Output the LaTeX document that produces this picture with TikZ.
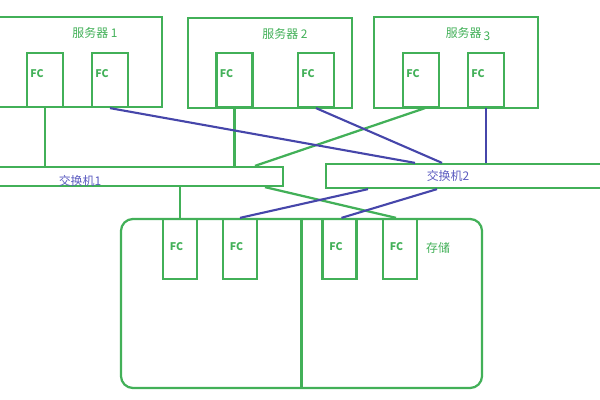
\documentclass[tikz,border=0pt]{standalone}
\usepackage{fontspec}
\setmainfont{Noto Sans CJK SC}
\definecolor{boxgreen}{RGB}{66,176,88}
\definecolor{linkblue}{RGB}{70,70,170}
\definecolor{labelblue}{RGB}{92,92,192}
\tikzset{
  box/.style={draw=boxgreen, line width=1.6pt, inner sep=0pt},
  fctext/.style={text=boxgreen, font=\bfseries\fontsize{7.5}{8}\selectfont},
  fc/.style={box, minimum width=0.9cm, minimum height=1.35cm,
    label={[fctext, xshift=-.2cm, yshift=.15cm]center:FC}},
  sfc/.style={box, minimum width=0.85cm, minimum height=1.5cm,
    label={[fctext, xshift=-.09cm, yshift=.07cm]center:FC}},
  srvlabel/.style={text=boxgreen, font=\fontsize{8.5}{9}\selectfont},
  swlabel/.style={text=labelblue, font=\fontsize{8.5}{9}\selectfont},
  glink/.style={draw=boxgreen, line width=1.6pt},
  blink/.style={draw=linkblue, line width=1.5pt}
}
\begin{document}
\begin{tikzpicture}[x=0.025cm, y=-0.025cm]
\useasboundingbox (0,0) rectangle (600,400);
% servers
\node[box, minimum width=4.125cm, minimum height=2.25cm] (srv1) at (79.5,62) {};
\node[box, minimum width=4.1cm, minimum height=2.25cm] (srv2) at (270,63) {};
\node[box, minimum width=4.1cm, minimum height=2.275cm] (srv3) at (456,62.5) {};
\foreach \i/\x in {1/45,2/110,3/234.5,4/316,5/421,6/486}
\node[fc] (f\i) at (\x,80) {};
% switches
\node[box, minimum width=7.15cm, minimum height=0.475cm] (sw1) at (140,176.5) {};
\node[box, minimum width=6.925cm, minimum height=0.6cm] (sw2) at (464.5,176) {};
% storage
\node[box, rounded corners=0.3cm, minimum width=9.025cm, minimum height=4.225cm] (store) at (301.5,303.5) {};
\draw[glink] (store.north) -- (store.south);
\foreach \i/\x in {1/180,2/240,3/339.5,4/400}
\node[sfc] (s\i) at (\x,249) {};
% edges
\draw[glink] (f1.south) -- (f1.south |- sw1.north);
\draw[glink] (f3.south) -- (f3.south |- sw1.north);
\draw[glink] ([xshift=.1cm]f5.south) -- (255,0 |- sw1.north);
\draw[glink] (s1.north |- sw1.south) -- (s1.north);
\draw[glink] (265,0 |- sw1.south) -- ([xshift=-.1cm]s4.north);
\draw[blink] (f2.south) -- (415,0 |- sw2.north);
\draw[blink] (f4.south) -- (442,0 |- sw2.north);
\draw[blink] (f6.south) -- (f6.south |- sw2.north);
\draw[blink] (368,0 |- sw2.south) -- (s2.north);
\draw[blink] (437,0 |- sw2.south) -- ([xshift=.05cm]s3.north);
% labels
\node[srvlabel] (l1) at (95,33) {服务器 1};
\node[srvlabel] (l2) at (285,34) {服务器 2};
\node[srvlabel] (l3) at (468,34) {服务器\,\raisebox{-2pt}{3}};
\node[swlabel] (l4) at (80,181) {交换机1};
\node[swlabel] (l5) at (448,176) {交换机2};
\node[srvlabel] (l6) at (438,248) {存储};
\end{tikzpicture}
\end{document}
